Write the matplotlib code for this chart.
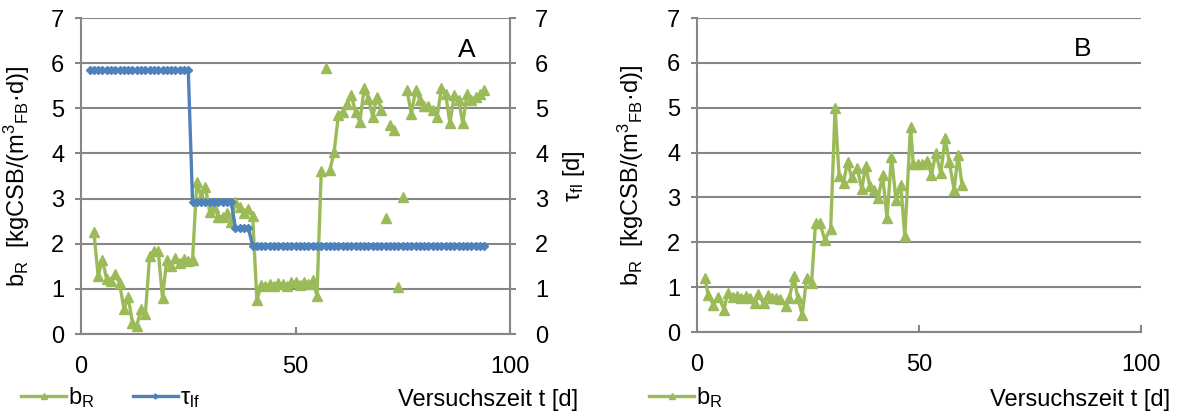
import matplotlib
matplotlib.use("Agg")
import matplotlib.pyplot as plt
import numpy as np

plt.rcParams['font.family'] = ['Liberation Sans', 'DejaVu Sans']
plt.rcParams['mathtext.fontset'] = 'custom'
plt.rcParams['mathtext.rm'] = 'Liberation Sans'
plt.rcParams['mathtext.it'] = 'Liberation Sans:italic'

nan = np.nan

# panel A: b_R (nan = gap in the line)
tA = [3, 4, 5, 6, 7, 8, 9, 10, 11, 12, 13, 14, 15, 16, 17, 18, 19, 20, 21, 22,
      23, 24, 25, 26, 27, 28, 29, 30, 31, 32, 33, 34, 35, 36, 37, 38, 39, 40,
      41, 42, 43, 44, 45, 46, 47, 48, 49, 50, 51, 52, 53, 54, 55, 56, 56.5,
      57, 57.5, 58, 59, 60, 61, 62, 63, 64, 65, 66, 67, 68, 69, 70, 70.5, 71,
      71.5, 72, 73, 73.5, 74, 74.5, 75, 75.5, 76, 77, 78, 79, 80, 81, 82, 83,
      84, 85, 86, 87, 88, 89, 90, 91, 92, 93, 94]
bA = [2.26, 1.28, 1.65, 1.21, 1.17, 1.33, 1.12, 0.56, 0.81, 0.25, 0.18, 0.55,
      0.44, 1.73, 1.84, 1.84, 0.80, 1.65, 1.50, 1.69, 1.58, 1.67, 1.62, 1.64,
      3.37, 3.04, 3.26, 2.71, 2.82, 2.60, 2.60, 2.67, 2.48, 2.93, 2.82, 2.67,
      2.78, 2.62, 0.75, 1.08, 1.06, 1.10, 1.06, 1.12, 1.10, 1.06, 1.15, 1.15,
      1.08, 1.15, 1.10, 1.19, 0.85, 3.60, nan, 5.90, nan, 3.63, 4.03, 4.85,
      4.92, 5.10, 5.29, 4.92, 4.70, 5.44, 5.21, 4.81, 5.25, 4.97, nan, 2.56,
      nan, 4.62, 4.53, nan, 1.05, nan, 3.04, nan, 5.40, 4.88, 5.40, 5.18, 5.04,
      5.06, 4.96, 4.81, 5.44, 5.32, 4.67, 5.29, 5.18, 4.67, 5.32, 5.18, 5.25,
      5.32, 5.41]

# panel A: tau_lf, step levels
tau_level = [5.85, 2.93, 2.35, 1.96]
tau_first = [2, 26, 36, 40]
tau_last = [25, 35, 39, 94]

# panel B: b_R
tB = [1.8, 2.5, 3.7, 4.8, 6.1, 6.9, 8, 9, 9.9, 11, 11.9, 13, 13.8, 15, 16,
      16.8, 17.8, 18.8, 20, 20.8, 21.8, 22.7, 23.7, 24.7, 25.8, 26.7, 27.6,
      28.8, 30.1, 31.1, 32, 33, 33.9, 34.8, 36.1, 37.1, 38, 38.9, 39.9, 40.8,
      41.8, 42.8, 43.8, 44.8, 45.9, 46.8, 48.1, 48.7, 49.7, 50.7, 51.9, 52.8,
      53.8, 54.9, 55.9, 56.8, 57.9, 58.8, 59.7]
bB = [1.20, 0.83, 0.61, 0.79, 0.50, 0.88, 0.78, 0.80, 0.76, 0.80, 0.76, 0.64,
      0.85, 0.64, 0.83, 0.76, 0.76, 0.73, 0.59, 0.75, 1.25, 0.75, 0.39, 1.20,
      1.09, 2.43, 2.44, 2.06, 2.29, 4.99, 3.47, 3.33, 3.80, 3.45, 3.65, 3.18,
      3.70, 3.26, 3.17, 2.98, 3.50, 2.54, 3.91, 2.95, 3.28, 2.14, 4.58, 3.75,
      3.74, 3.74, 3.82, 3.50, 3.99, 3.54, 4.32, 3.80, 3.17, 3.95, 3.28]

green = '#9BBB59'
blue = '#4F81BD'
grey = '#868686'
fs = 17

tau_t = []
tau_v = []
for lev, a, b in zip(tau_level, tau_first, tau_last):
    for d in range(a, b + 1):
        tau_t.append(d)
        tau_v.append(lev)

fig = plt.figure(figsize=(11.77, 4.19), dpi=100)
W, H = 1177.0, 419.0
axA = fig.add_axes([81 / W, 1 - 334 / H, 429 / W, 316 / H])
axB = fig.add_axes([697 / W, 1 - 332 / H, 444 / W, 314 / H])


def style(ax):
    ax.set_xlim(0, 100)
    ax.set_ylim(0, 7)
    ax.set_xticks([0, 50, 100])
    ax.set_yticks(range(0, 8))
    ax.grid(axis='y', color=grey, lw=1.5)
    ax.set_axisbelow(True)
    for s in ['top', 'right']:
        ax.spines[s].set_visible(False)
    for s in ['left', 'bottom']:
        ax.spines[s].set_color(grey)
        ax.spines[s].set_linewidth(1.5)
    ax.tick_params(axis='x', direction='in', length=5, color=grey, width=1.5,
                   labelsize=fs, pad=16)
    ax.tick_params(axis='y', direction='out', length=4, color=grey, width=1.5,
                   labelsize=fs, pad=8)


style(axA)
style(axB)

lb, = axA.plot(tA, bA, color=green, lw=2.4, marker='^', ms=6.5, zorder=3)
axR = axA.twinx()
lt, = axR.plot(tau_t, tau_v, color=blue, lw=2.4, marker='D', ms=4.3, zorder=4)
axR.set_ylim(0, 7)
axR.set_yticks(range(0, 8))
for s in ['top', 'left', 'bottom']:
    axR.spines[s].set_visible(False)
axR.spines['right'].set_color(grey)
axR.spines['right'].set_linewidth(1.5)
axR.tick_params(axis='y', direction='out', length=4, color=grey, width=1.5,
                labelsize=fs, pad=14)
axR.set_ylabel('τ$_\\mathrm{fl}$ [d]', fontsize=fs)
axR.yaxis.set_label_coords(1.118, 0.5)

axB.plot(tB, bB, color=green, lw=2.4, marker='^', ms=6.5, zorder=3)

ylab = 'b$_\\mathrm{R}$  [kgCSB/(m$^3$$_\\mathrm{FB}$·d)]'
axA.set_ylabel(ylab, fontsize=fs)
axA.yaxis.set_label_coords(-0.114, 0.5)
axB.set_ylabel(ylab, fontsize=fs)
axB.yaxis.set_label_coords(-0.115, 0.5)

axA.text(0.9, 0.9, 'A', transform=axA.transAxes, fontsize=19, ha='center',
         va='center')
axB.text(0.869, 0.9, 'B', transform=axB.transAxes, fontsize=19, ha='center',
         va='center')

fig.text(578 / W, 1 - 400 / H, 'Versuchszeit t [d]', fontsize=fs,
         ha='right', va='center')
fig.text(1170 / W, 1 - 400 / H, 'Versuchszeit t [d]', fontsize=fs,
         ha='right', va='center')

fig.legend([lb, lt], ['b$_\\mathrm{R}$', 'τ$_\\mathrm{lf}$'], loc='center left',
           bbox_to_anchor=(0, 1 - 398 / H), ncol=2, frameon=False,
           fontsize=fs, handlelength=1.9, handletextpad=0.1,
           columnspacing=1.6, markerscale=0.6)
fig.legend([lb], ['b$_\\mathrm{R}$'], loc='center left',
           bbox_to_anchor=(628 / W, 1 - 398 / H), frameon=False,
           fontsize=fs, handlelength=1.9, handletextpad=0.1, markerscale=0.6)

fig.savefig('out.png', dpi=100)
